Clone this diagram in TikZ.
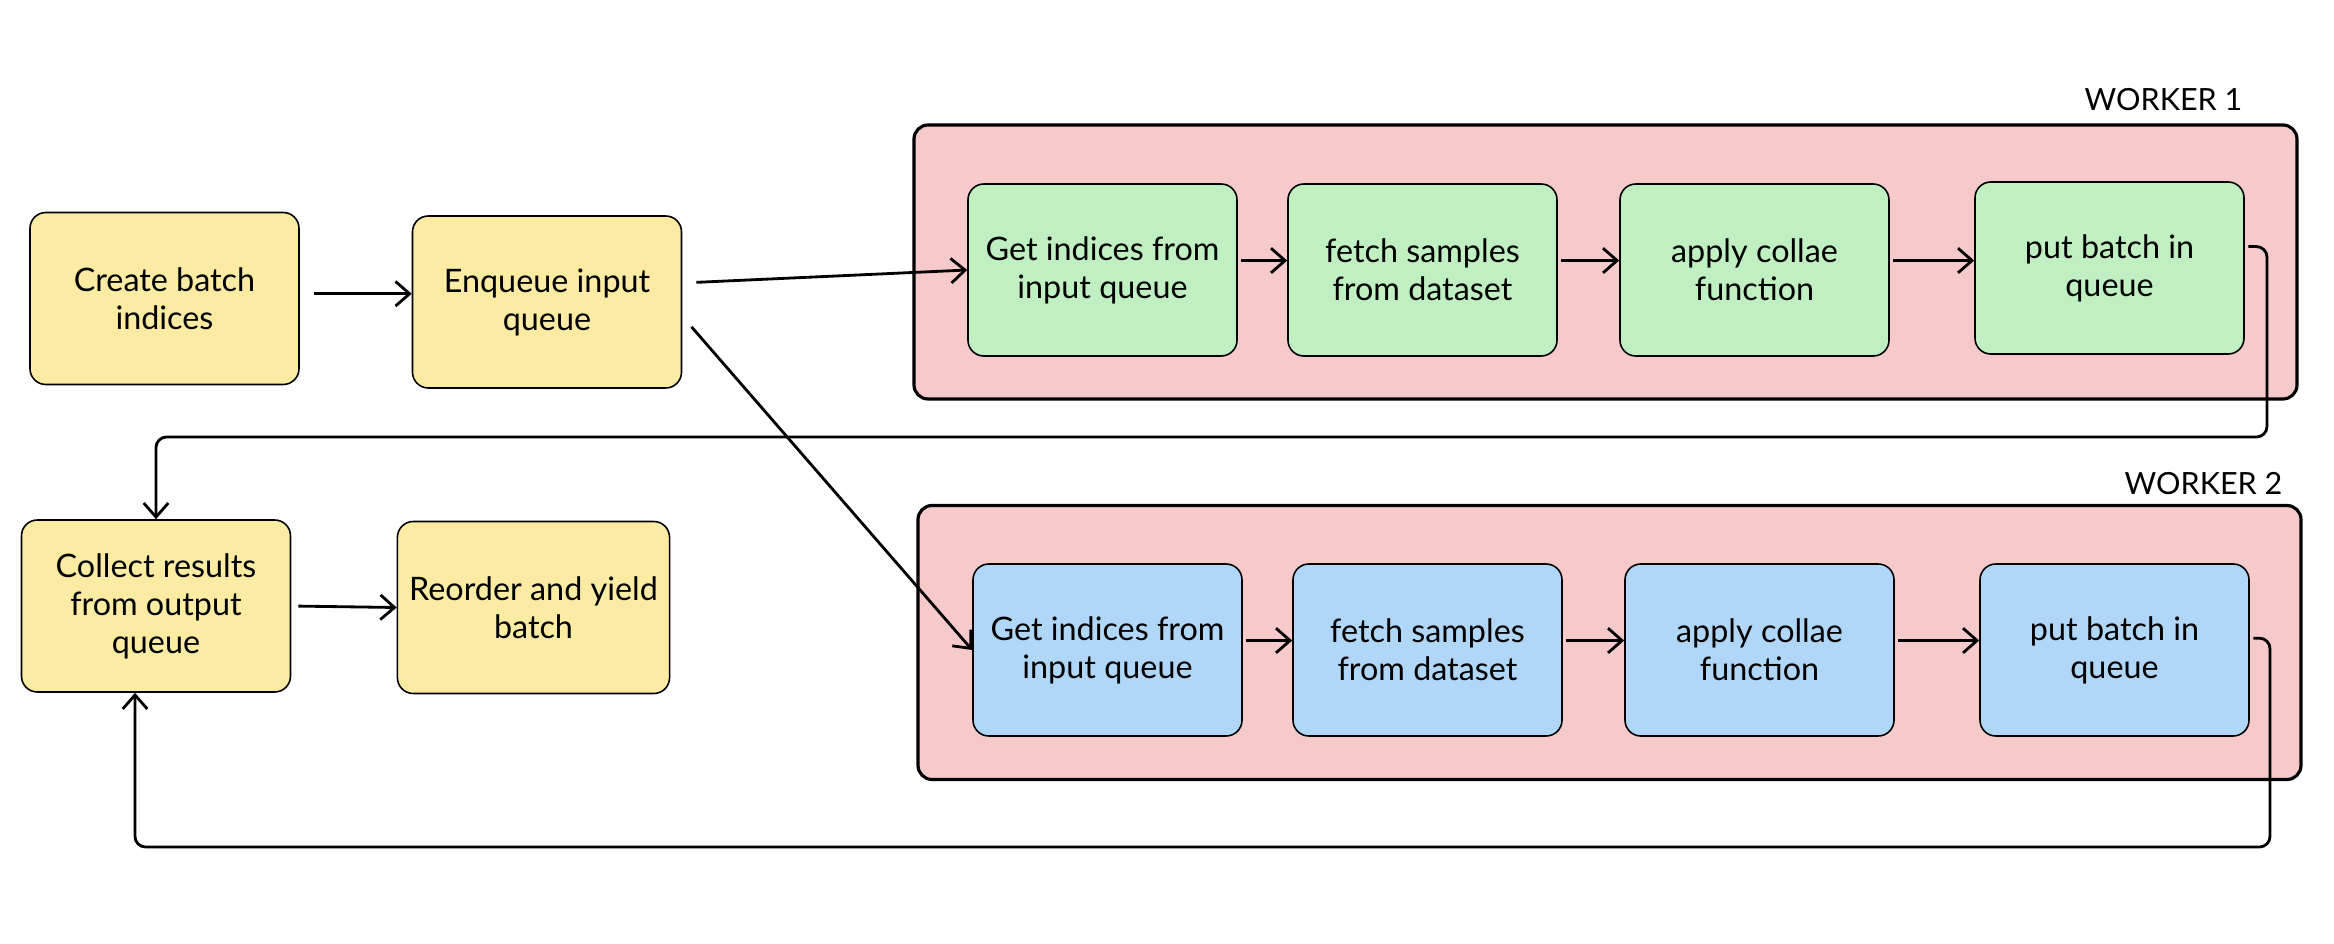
\documentclass[tikz,border=0pt]{standalone}
\usepackage{fontspec}
\setmainfont{Lato}
\usetikzlibrary{arrows.meta}
\definecolor{boxyellow}{HTML}{FCEBA2}
\definecolor{boxgreen}{HTML}{C0F0C1}
\definecolor{boxblue}{HTML}{B0D7F8}
\definecolor{workerpink}{HTML}{F6CACA}
\begin{document}
\begin{tikzpicture}[x=1cm,y=-1cm,
    box/.style={draw,line width=.45pt,rounded corners=4.5pt,minimum width=2.69cm,minimum height=1.72cm,align=center,font=\fontsize{9.2}{10.8}\selectfont},
    worker/.style={draw,line width=.9pt,fill=workerpink,rounded corners=4pt,minimum width=13.83cm,minimum height=2.74cm},
    arr/.style={-{Straight Barb[length=4pt,width=7pt]},line width=.8pt}]
  \useasboundingbox (0,0) rectangle (23.34,9.44);
  \node[worker] (w1) at (16.055,2.62) {};
  \node[worker] (w2) at (16.095,6.425) {};
  \node[anchor=east,inner sep=0pt,font=\fontsize{8.7}{10.8}\selectfont] (w1name) at (22.43,1.00) {WORKER 1};
  \node[anchor=east,inner sep=0pt,font=\fontsize{8.7}{10.8}\selectfont] (w2name) at (22.83,4.84) {WORKER 2};
  \node[box,fill=boxyellow] (create) at (1.645,2.985) {Create batch\\indices};
  \node[box,fill=boxyellow] (enq) at (5.47,3.02) {Enqueue input\\queue};
  \node[box,fill=boxyellow] (collect) at (1.56,6.06) {Collect results\\from output\\queue};
  \node[box,fill=boxyellow] (reorder) at (5.335,6.075) {Reorder and yield\\batch};
  \node[box,fill=boxgreen] (g1) at (11.025,2.70) {Get indices from\\input queue};
  \node[box,fill=boxgreen] (g2) at (14.225,2.70) {fetch samples\\from dataset};
  \node[box,fill=boxgreen] (g3) at (17.545,2.70) {apply collae\\function};
  \node[box,fill=boxgreen] (g4) at (21.095,2.68) {put batch in\\queue};
  \node[box,fill=boxblue] (b1) at (11.075,6.50) {Get indices from\\input queue};
  \node[box,fill=boxblue] (b2) at (14.275,6.50) {fetch samples\\from dataset};
  \node[box,fill=boxblue] (b3) at (17.595,6.50) {apply collae\\function};
  \node[box,fill=boxblue] (b4) at (21.145,6.50) {put batch in\\queue};
  \coordinate (bend1) at (22.67,4.37);
  \coordinate (bend2) at (22.70,8.47);
  \draw[arr,shorten <=4pt] (create.2) -- (create.2 -| enq.west);
  \draw[arr,shorten <=4pt] (enq.8) -- (g1.west);
  \draw[arr,shorten <=4pt] (enq.-6) -- (b1.west);
  \draw[arr,shorten <=2pt] (collect.east) -- (reorder.west);
  \foreach \a/\b in {g1/g2,g2/g3,g3/g4,b1/b2,b2/b3,b3/b4}
    \draw[arr,shorten <=1pt] (\a.4) -- (\a.4 -| \b.west);
  \draw[arr,rounded corners=3pt,shorten <=1pt] (g4.9) -| (bend1) -| (collect.north);
  \draw[arr,rounded corners=3pt,shorten <=1pt] (b4.5) -| (bend2) -| ([xshift=-.21cm]collect.south);
\end{tikzpicture}
\end{document}
